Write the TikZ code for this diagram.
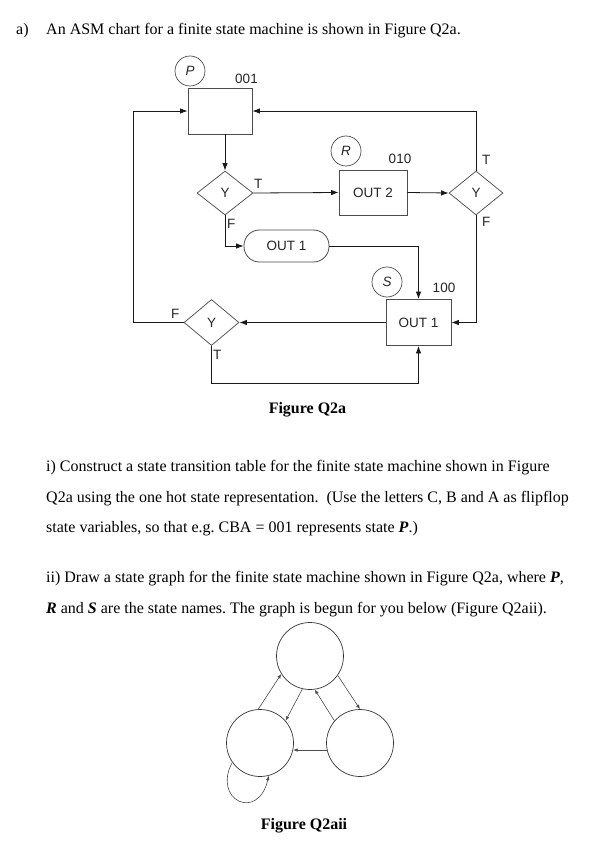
\documentclass[tikz,border=0pt]{standalone}
\usepackage{fontspec}
\setmainfont{Liberation Serif}
\newfontfamily\arialfam{Liberation Sans}
\usetikzlibrary{shapes.geometric,arrows.meta}
\newcommand\diagfont{\arialfam\fontsize{13.5}{16}\selectfont}
\frenchspacing
\begin{document}
\begin{tikzpicture}[x=1pt,y=-1pt,
  ln/.style={draw=black!90, line width=0.8pt},
  arr/.style={ln,-{Latex[length=7.5pt,width=5.5pt]}},
  sbox/.style={draw=black!70, line width=0.8pt, rectangle, inner sep=0pt, text=black!85, font=\diagfont},
  dec/.style={diamond, draw=black!65, line width=0.8pt, inner sep=0pt, aspect=1.25, text=black!85, font=\diagfont},
  cond/.style={draw=black!70, line width=0.8pt, rectangle, rounded corners=15.5pt, inner sep=0pt, text=black!85, font=\diagfont},
  sname/.style={circle, draw=black!70, line width=0.7pt, inner sep=0pt, minimum size=30pt, text=black!85, font=\diagfont\itshape},
  lbl/.style={inner sep=0pt, text=black!85, font=\diagfont},
  txt/.style={inner sep=0pt, anchor=base west, font=\fontsize{16}{19}\selectfont},
  figcap/.style={inner sep=0pt, anchor=base, font=\fontsize{16}{19}\selectfont\bfseries},
  st/.style={circle, draw=black!80, line width=0.7pt, minimum size=67pt, inner sep=0pt},
  garr/.style={draw=black!70, line width=0.6pt, -{Latex[length=4.5pt,width=3.5pt]}}
]
\useasboundingbox (0,0) rectangle (589,842);
\fill[white] (0,0) rectangle (589,842);

% text
\node[txt] (ta) at (16,35) {a)};
\node[txt] (tb) at (46,35) {An ASM chart for a finite state machine is shown in Figure Q2a.};

% ASM chart
\node[sbox, minimum width=64pt, minimum height=46pt] (pbox) at (220,111) {};
\node[sname] (pc) at (190,71) {P};
\node[lbl, anchor=base] (l001) at (246.5,84) {001};

\node[dec, minimum width=56pt, minimum height=44pt] (d1) at (225,193) {Y};
\node[lbl, anchor=base west] (t1) at (254,189) {T};
\node[lbl, anchor=base west] (f1) at (227,229) {F};

\node[sbox, minimum width=68pt, minimum height=45pt] (out2) at (373,192.5) {OUT 2};
\node[sname] (rc) at (346,151) {R};
\node[lbl, anchor=base] (l010) at (400,164) {010};

\node[dec, minimum width=54pt, minimum height=44pt] (d2) at (476,193) {Y};
\node[lbl, anchor=base west] (t2) at (482,165) {T};
\node[lbl, anchor=base west] (f2) at (482,226) {F};

\node[cond, minimum width=85pt, minimum height=32pt] (c1) at (286.5,246) {OUT 1};

\node[sbox, minimum width=65pt, minimum height=46pt] (sbx) at (418.5,322.5) {OUT 1};
\node[sname] (sc) at (387,282) {S};
\node[lbl, anchor=base] (l100) at (444,292) {100};

\node[dec, minimum width=55pt, minimum height=46pt] (d3) at (211.5,322.5) {Y};
\node[lbl, anchor=base west] (f3) at (171,318) {F};
\node[lbl, anchor=base west] (t3) at (213,359) {T};

\coordinate (lc) at (133,111);
\coordinate (bc) at (211.5,383);

\draw[arr] (pbox.south -| d1.north) -- (d1.north);
\draw[arr] (d1.east) -- (out2.west);
\draw[arr] (d1.south) |- (c1.west);
\draw[arr] (out2.east) -- (d2.west);
\draw[arr] (d2.north) |- (pbox.east);
\draw[arr] (d2.south) |- (sbx.east);
\draw[arr] (c1.east) -| (sbx.north);
\draw[arr] (sbx.west) -- (d3.east);
\draw[arr] (d3.west) -| (lc) -- (pbox.west);
\draw[arr] (d3.south) -- (bc) -| (sbx.south);

\node[figcap] (cap1) at (307.5,413) {Figure Q2a};

% questions
\node[txt] (i1) at (46,471) {i) Construct a state transition table for the finite state machine shown in Figure};
\node[txt] (i2) at (46,502) {Q2a using the one hot state representation.~ (Use the letters C, B and A as flipflop};
\node[txt] (i3) at (46,532) {state variables, so that e.g. CBA = 001 represents state \textbf{\textit{P}}.)};
\node[txt] (ii1) at (46,582) {ii) Draw a state graph for the finite state machine shown in Figure Q2a, where \textbf{\textit{P}},};
\node[txt] (ii2) at (46,613) {\textbf{\textit{R}} and \textbf{\textit{S}} are the state names. The graph is begun for you below (Figure Q2aii).};

% state graph
\node[st] (sp) at (310,656) {};
\node[st] (sl) at (260,743) {};
\node[st] (sr) at (360,743) {};
\draw[garr] (sl.93) -- (sp.212);
\draw[garr] (sp.257) -- (sl.41);
\draw[garr] (sr.139) -- (sp.278);
\draw[garr] (sp.325) -- (sr.90);
\draw[garr] (sr.192) -- (sl.348);
\draw[garr] (sl.215) .. controls (212,800) and (258,822) .. (sl.285);

\node[figcap] (cap2) at (304,829) {Figure Q2aii};
\end{tikzpicture}
\end{document}
